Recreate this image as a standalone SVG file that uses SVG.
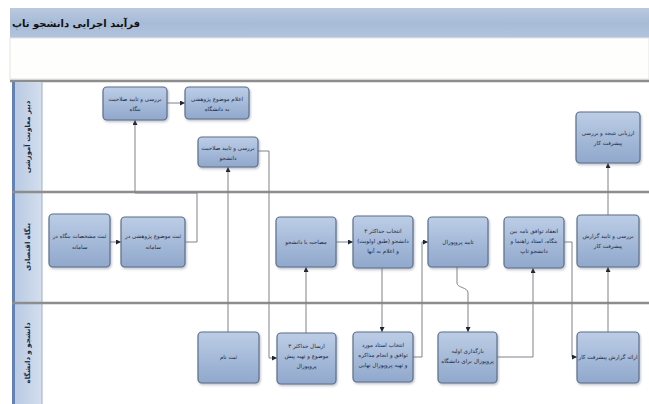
<svg xmlns="http://www.w3.org/2000/svg" width="649" height="404" viewBox="0 0 649 404">
<style>
.node rect{fill:url(#ng);stroke:#5d6f8a;stroke-width:1.2;filter:url(#sh)}
.node text{font-family:"DejaVu Sans",sans-serif;font-size:5.6px;fill:#1b2840;text-anchor:middle}
.lane text{font-family:"DejaVu Sans",sans-serif;font-size:7px;font-weight:bold;fill:#1b2840;text-anchor:middle}
.conn path{fill:none;stroke:#7d848e;stroke-width:1}
.conn .a{marker-end:url(#ah)}
.sep{stroke:#8d8d8d;stroke-width:2.5}
</style>
<defs>
<linearGradient id="ng" x1="0" y1="0" x2="0" y2="1"><stop offset="0" stop-color="#bccde6"/><stop offset="1" stop-color="#90a8cc"/></linearGradient>
<linearGradient id="tg" x1="0" y1="0" x2="0" y2="1"><stop offset="0" stop-color="#b9c9e0"/><stop offset="0.5" stop-color="#a7bbd7"/><stop offset="1" stop-color="#b3c4dc"/></linearGradient>
<linearGradient id="lg" x1="0" y1="0" x2="1" y2="0"><stop offset="0" stop-color="#b7c8e2"/><stop offset="1" stop-color="#d3deee"/></linearGradient>
<filter id="sh" x="-20%" y="-20%" width="140%" height="140%"><feDropShadow dx="1" dy="1.5" stdDeviation="1" flood-color="#6a7280" flood-opacity="0.45"/></filter>
<marker id="ah" viewBox="0 0 10 10" refX="10" refY="5" markerWidth="5" markerHeight="5" orient="auto"><path d="M0,0 L10,5 L0,10 z" fill="#1e2633"/></marker>
</defs>
<rect x="0" y="0" width="649" height="404" fill="#ffffff"/>
<g id="title">
<rect x="10" y="8" width="639" height="30" fill="url(#tg)"/>
<text x="12" y="27" font-family="DejaVu Sans,sans-serif" font-size="10" font-weight="bold" fill="#111" text-anchor="start">فرآیند اجرایی دانشجو تاپ</text>
</g>
<rect x="10" y="38" width="639" height="41" fill="#fefefc" stroke="#e4e4e4" stroke-width="1"/>
<line class="sep" x1="10" y1="81" x2="649" y2="81"/>
<g id="lanes" class="lane">
<rect x="12" y="82" width="30" height="322" fill="url(#lg)"/>
<rect x="12" y="82" width="3" height="322" fill="#6482b3"/>
<line x1="42" y1="82" x2="42" y2="404" stroke="#9fb0c8" stroke-width="1"/>
<line class="sep" x1="12" y1="192" x2="649" y2="192"/>
<line class="sep" x1="12" y1="303" x2="649" y2="303"/>
<g id="lane1"><text transform="translate(30,137) rotate(-90)">دبیر معاونت آموزشی</text></g>
<g id="lane2"><text transform="translate(30,247) rotate(-90)">بنگاه اقتصادی</text></g>
<g id="lane3"><text transform="translate(30,353) rotate(-90)">دانشجو و دانشگاه</text></g>
</g>
<g id="connectors" class="conn">
<path class="a" d="M110,242 H121"/>
<path class="a" d="M167,103 H185"/>
<path class="a" d="M185,242 H197 V193 H135 V120"/>
<path class="a" d="M228,332 V167"/>
<path class="a" d="M258,151 H269 V358 H277"/>
<path class="a" d="M306,333 V267"/>
<path class="a" d="M336,242 H353"/>
<path class="a" d="M382,268 V332"/>
<path class="a" d="M413,357 H422 V242 H428"/>
<path class="a" d="M457,267 V283 C457,288 468,287 468,293 V332"/>
<path class="a" d="M497,357 H533 V268"/>
<path class="a" d="M564,242 H572 V357 H577"/>
<path class="a" d="M608,332 V267"/>
<path class="a" d="M608,215 V163"/>
</g>
<g id="nA" class="node"><rect x="103" y="87" width="64" height="33" rx="4"/><text x="135" y="101">بررسی و تایید صلاحیت</text><text x="135" y="111">بنگاه</text></g>
<g id="nB" class="node"><rect x="185" y="87" width="64" height="32" rx="4"/><text x="217" y="101">اعلام موضوع پژوهشی</text><text x="217" y="111">به دانشگاه</text></g>
<g id="nC" class="node"><rect x="198" y="137" width="60" height="30" rx="4"/><text x="228" y="150">بررسی و تایید صلاحیت</text><text x="228" y="160">دانشجو</text></g>
<g id="nD" class="node"><rect x="576" y="112" width="64" height="51" rx="4"/><text x="608" y="135">ارزیابی نتیجه و بررسی</text><text x="608" y="145">پیشرفت کار</text></g>
<g id="nE" class="node"><rect x="49" y="214" width="61" height="53" rx="4"/><text x="79.5" y="238">ثبت مشخصات بنگاه در</text><text x="79.5" y="249">سامانه</text></g>
<g id="nF" class="node"><rect x="121" y="217" width="64" height="50" rx="4"/><text x="153" y="238">ثبت موضوع پژوهشی در</text><text x="153" y="249">سامانه</text></g>
<g id="nG" class="node"><rect x="276" y="217" width="60" height="50" rx="4"/><text x="306" y="244">مصاحبه با دانشجو</text></g>
<g id="nH" class="node"><rect x="353" y="216" width="60" height="52" rx="4"/><text x="383" y="233">انتخاب حداکثر ۳</text><text x="383" y="243">دانشجو (طبق اولویت)</text><text x="383" y="253">و اعلام به آنها</text></g>
<g id="nI" class="node"><rect x="428" y="217" width="60" height="50" rx="4"/><text x="458" y="244">تایید پروپوزال</text></g>
<g id="nJ" class="node"><rect x="504" y="217" width="60" height="51" rx="4"/><text x="534" y="233">انعقاد توافق نامه بین</text><text x="534" y="243">بنگاه، استاد راهنما و</text><text x="534" y="253">دانشجو تاپ</text></g>
<g id="nK" class="node"><rect x="577" y="215" width="62" height="52" rx="4"/><text x="608" y="238">بررسی و تایید گزارش</text><text x="608" y="248">پیشرفت کار</text></g>
<g id="nL" class="node"><rect x="198" y="332" width="61" height="51" rx="4"/><text x="228.5" y="359">ثبت نام</text></g>
<g id="nM" class="node"><rect x="277" y="333" width="59" height="51" rx="4"/><text x="306.5" y="348">ارسال حداکثر ۳</text><text x="306.5" y="358">موضوع و تهیه پیش</text><text x="306.5" y="368">پروپوزال</text></g>
<g id="nN" class="node"><rect x="353" y="332" width="60" height="50" rx="4"/><text x="383" y="347">انتخاب استاد مورد</text><text x="383" y="357">توافق و انجام مذاکره</text><text x="383" y="367">و تهیه پروپوزال نهایی</text></g>
<g id="nO" class="node"><rect x="438" y="332" width="59" height="51" rx="4"/><text x="467.5" y="353">بارگذاری اولیه</text><text x="467.5" y="363">پروپوزال برای دانشگاه</text></g>
<g id="nP" class="node"><rect x="577" y="332" width="62" height="51" rx="4"/><text x="608" y="359">ارائه گزارش پیشرفت کار</text></g>
</svg>
